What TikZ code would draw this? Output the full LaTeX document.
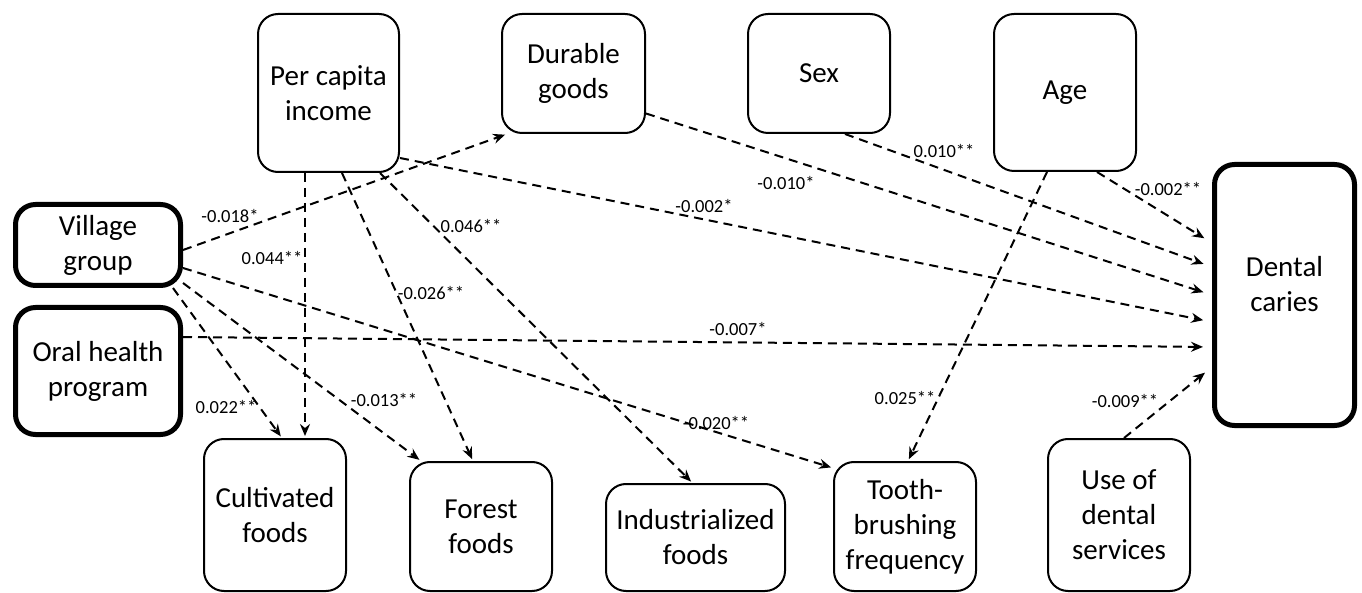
\documentclass[tikz,border=0pt]{standalone}
\usepackage{fontspec}
\setmainfont{Carlito}
\usetikzlibrary{arrows.meta,calc}
\begin{document}
\begin{tikzpicture}[x=1pt,y=-1pt,
  box/.style={draw, line width=2pt, rounded corners=20pt, align=center, inner sep=0pt, font=\fontsize{29}{35}\selectfont},
  bbox/.style={box, line width=5pt},
  boxtext/.style={align=center, inner sep=0pt, font=\fontsize{29}{35}\selectfont},
  link/.style={line width=2pt, dash pattern=on 9pt off 6pt, -{Stealth[length=12pt,width=10pt,inset=4pt]}, shorten >=2pt},
  lab/.style={font=\fontsize{18.5}{21}\selectfont, inner sep=1pt}]
\useasboundingbox (0,0) rectangle (1362,593);
% nodes
\node[box, minimum width=141pt, minimum height=158pt] (PC) at (328.5,93) {Per capita\\income};
\node[box, minimum width=143pt, minimum height=119pt] (DG) at (573.5,73.5) {Durable\\goods};
\node[box, minimum width=142pt, minimum height=119pt] (SX) at (819,73.5) {Sex};
\node[box, minimum width=142pt, minimum height=157pt] (AG) at (1065,92.5) {Age};
\node[bbox, minimum width=140pt, minimum height=261pt] (DC) at (1284.5,295) {};
\node[boxtext] (DCt) at (1284.5,284) {Dental\\caries};
\node[bbox, minimum width=165pt, minimum height=81pt] (VG) at (98,245) {Village\\group};
\node[bbox, minimum width=165pt, minimum height=127pt] (OH) at (98,371) {Oral health\\program};
\node[box, minimum width=142pt, minimum height=152pt] (CF) at (275,515) {Cultivated\\foods};
\node[box, minimum width=142pt, minimum height=129pt] (FF) at (481,526.5) {Forest\\foods};
\node[box, minimum width=179pt, minimum height=107pt] (IF) at (695.5,537.5) {Industrialized\\foods};
\node[box, minimum width=142pt, minimum height=129pt] (TB) at (905,526.5) {Tooth-\\brushing\\frequency};
\node[box, minimum width=142pt, minimum height=152pt] (UD) at (1119,515) {Use of\\dental\\services};
% connectors
\draw[link] ([yshift=-5pt]VG.east) -- ([xshift=6pt]DG.south west);
\draw[link] ([yshift=-23pt]VG.east) -- ([yshift=-7pt]TB.north west);
\draw[link] ([xshift=-10pt]VG.south east) -- ([xshift=7pt]CF.north);
\draw[link] ([yshift=-38pt]VG.east) -- ([xshift=12pt]FF.north west);
\draw[link] ([xshift=-23.5pt]PC.south) -- ([xshift=30pt]CF.north);
\draw[link] ([xshift=13.5pt]PC.south) -- ([xshift=-8pt]FF.north);
\draw[link] ([xshift=51.5pt]PC.south) -- ([xshift=-3pt]IF.north);
\draw[link, shorten >=9pt] ([yshift=-65pt]PC.east) -- ([yshift=-27pt]DC.west);
\draw[link, shorten >=9pt] ([yshift=-40pt]DG.east) -- (DC.west);
\draw[link, shorten >=9pt] ([xshift=26pt]SX.south) -- ([yshift=28pt]DC.west);
\draw[link, shorten >=9pt] ([xshift=32pt]AG.south) -- ([yshift=52pt]DC.west);
\draw[link] ([xshift=-18pt]AG.south) -- ([xshift=3pt]TB.north);
\draw[link, shorten >=9pt] ([yshift=34pt]OH.east) -- ([yshift=-52pt]DC.west);
\draw[link, shorten >=9pt] ([xshift=5pt]UD.north) -- ([yshift=-72pt]DC.west);
% labels
\node[lab] (L1) at (230,216) {-0.018*};
\node[lab] (L2) at (272,258) {0.044**};
\node[lab] (L3) at (431,293) {-0.026**};
\node[lab] (L4) at (471,226) {0.046**};
\node[lab] (L5) at (226,407) {0.022**};
\node[lab] (L6) at (384,400) {-0.013**};
\node[lab] (L7) at (716,423) {-0.020**};
\node[lab] (L8) at (704,206) {-0.002*};
\node[lab] (L9) at (786,183) {-0.010*};
\node[lab] (L10) at (944,151) {0.010**};
\node[lab] (L11) at (1168,189) {-0.002**};
\node[lab] (L12) at (738,329) {-0.007*};
\node[lab] (L13) at (905,398) {0.025**};
\node[lab] (L14) at (1125,401) {-0.009**};
\end{tikzpicture}
\end{document}
